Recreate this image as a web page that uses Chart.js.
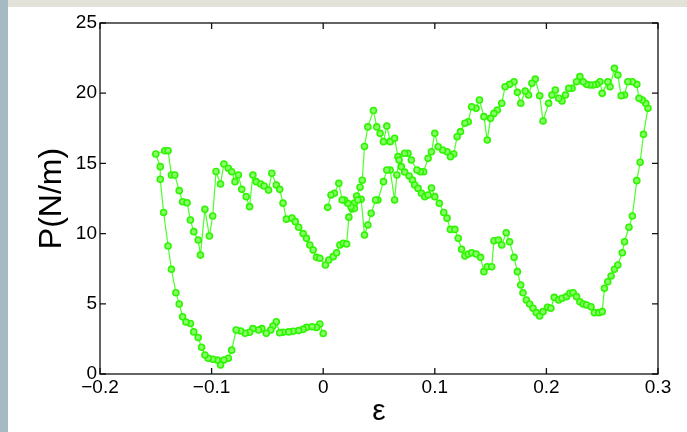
<!DOCTYPE html>
<html>
<head>
<meta charset="utf-8">
<script src="https://cdn.jsdelivr.net/npm/chart.js@4"></script>
<style>
html, body { margin: 0; padding: 0; background: #fff; }
#wrap { position: relative; width: 687px; height: 432px; overflow: hidden; background: #fff; }
#topStrip { position: absolute; left: 0; top: 0; width: 687px; height: 7px; background: #e2e2d8; }
#leftStrip { position: absolute; left: 0; top: 0; width: 8px; height: 432px; background: #a5bac2; }
#chart { position: absolute; left: 0; top: 0; }
</style>
</head>
<body>
<div id="wrap">
  <div id="topStrip"></div>
  <div id="leftStrip"></div>
  <canvas id="chart" width="687" height="432"></canvas>
</div>
<script>
// [strain, P] pairs, in the order the loop was recorded
const lowerLeft = [
    [0.000, 2.88], [-0.003, 3.56], [-0.006, 3.32], [-0.010, 3.37], [-0.015, 3.32], [-0.018, 3.18],
    [-0.022, 3.09], [-0.027, 3.05], [-0.031, 3.00], [-0.036, 2.97], [-0.039, 2.94], [-0.042, 3.72],
    [-0.045, 3.42], [-0.047, 3.13], [-0.051, 2.90], [-0.055, 3.23], [-0.058, 3.13], [-0.063, 3.23],
    [-0.066, 2.97], [-0.070, 2.90], [-0.074, 3.06], [-0.078, 3.13], [-0.082, 1.70], [-0.085, 1.12],
    [-0.089, 1.00], [-0.092, 0.64], [-0.095, 1.00], [-0.099, 1.05], [-0.103, 1.12], [-0.106, 1.35],
    [-0.109, 1.90], [-0.112, 2.60], [-0.116, 3.00], [-0.119, 3.60], [-0.123, 3.70], [-0.126, 4.08],
    [-0.129, 4.99], [-0.132, 5.79], [-0.136, 7.46], [-0.139, 9.12], [-0.143, 11.50], [-0.146, 13.87],
    [-0.146, 14.77], [-0.150, 15.67], [-0.142, 15.90], [-0.139, 15.90]
]
const upperLeft = [
    [-0.136, 14.17], [-0.133, 14.17], [-0.129, 13.06], [-0.126, 12.27], [-0.122, 12.20], [-0.119, 10.97],
    [-0.116, 10.14], [-0.112, 9.54], [-0.110, 8.47], [-0.106, 11.73], [-0.102, 9.83], [-0.099, 11.25],
    [-0.096, 14.42], [-0.092, 13.53], [-0.089, 14.96], [-0.085, 14.65], [-0.082, 14.41], [-0.079, 13.70],
    [-0.076, 14.17], [-0.073, 13.15], [-0.069, 12.63], [-0.066, 11.92], [-0.063, 14.17], [-0.060, 13.70],
    [-0.056, 13.53], [-0.053, 13.39], [-0.049, 13.10], [-0.046, 14.30], [-0.042, 13.46], [-0.039, 13.15],
    [-0.036, 12.17], [-0.033, 11.03], [-0.028, 11.10], [-0.025, 10.85], [-0.022, 10.45], [-0.018, 10.00],
    [-0.015, 9.66], [-0.012, 9.19], [-0.009, 8.83], [-0.006, 8.31], [-0.003, 8.24]
]
const middleDown = [
    [0.002, 7.76], [0.005, 8.12], [0.009, 8.36], [0.012, 8.64], [0.015, 9.19], [0.018, 9.31],
    [0.021, 9.26], [0.023, 11.17], [0.026, 11.75], [0.028, 12.18], [0.030, 12.68], [0.033, 13.30],
    [0.035, 13.80], [0.037, 16.20], [0.040, 17.60], [0.045, 18.77], [0.048, 17.60], [0.051, 17.14],
    [0.054, 16.55], [0.057, 17.66], [0.060, 16.55], [0.064, 16.79], [0.067, 15.48], [0.070, 14.77],
    [0.073, 14.39], [0.077, 14.10], [0.080, 13.82], [0.082, 13.46], [0.085, 13.22], [0.088, 12.87],
    [0.091, 12.63], [0.094, 12.75], [0.097, 13.25], [0.100, 12.63], [0.104, 12.16], [0.108, 11.50],
    [0.111, 11.10], [0.114, 10.30], [0.118, 10.30], [0.121, 9.67], [0.124, 8.88], [0.127, 8.40],
    [0.130, 8.55], [0.133, 8.64], [0.137, 8.55], [0.141, 8.31], [0.144, 7.29], [0.147, 7.64],
    [0.151, 7.64], [0.153, 9.49], [0.157, 9.54], [0.160, 9.19], [0.164, 10.06], [0.167, 9.42],
    [0.171, 8.31], [0.174, 7.29], [0.177, 6.34], [0.179, 5.79], [0.182, 5.27], [0.185, 4.99],
    [0.188, 4.68], [0.191, 4.37], [0.194, 4.13], [0.197, 4.44], [0.201, 4.75], [0.204, 4.68],
    [0.207, 5.46], [0.211, 5.27], [0.214, 5.39], [0.218, 5.51], [0.221, 5.75], [0.224, 5.79],
    [0.227, 5.51], [0.230, 5.15], [0.233, 4.99], [0.236, 4.91], [0.240, 4.79], [0.243, 4.37],
    [0.247, 4.37], [0.250, 4.44]
]
const rightUp = [
    [0.252, 6.10], [0.255, 6.57], [0.258, 6.98], [0.261, 7.46], [0.264, 7.76], [0.268, 8.64],
    [0.270, 9.42], [0.274, 10.45], [0.277, 11.25], [0.281, 13.77], [0.284, 15.08], [0.287, 17.07],
    [0.291, 18.92]
]
const upperBack = [
    [0.289, 19.28], [0.286, 19.52], [0.283, 19.64], [0.281, 20.63], [0.277, 20.82], [0.273, 20.82],
    [0.270, 19.87], [0.267, 19.82], [0.264, 21.30], [0.261, 21.77], [0.257, 20.46], [0.255, 20.82],
    [0.250, 19.99], [0.248, 20.82], [0.245, 20.63], [0.242, 20.58], [0.239, 20.58], [0.236, 20.63],
    [0.233, 20.82], [0.230, 21.18], [0.227, 20.82], [0.223, 20.35], [0.220, 20.35], [0.217, 19.87],
    [0.214, 19.44], [0.211, 19.64], [0.208, 20.23], [0.205, 19.87], [0.202, 19.28], [0.197, 18.02],
    [0.194, 19.82], [0.190, 21.01], [0.187, 20.70], [0.184, 19.87], [0.181, 20.16], [0.177, 19.28],
    [0.174, 20.06], [0.171, 20.82], [0.167, 20.63], [0.163, 20.46], [0.160, 19.28], [0.156, 18.80],
    [0.153, 18.56], [0.150, 18.21], [0.147, 16.67], [0.144, 18.33], [0.140, 19.52], [0.137, 18.92],
    [0.133, 19.04], [0.130, 17.97], [0.127, 17.86], [0.123, 17.26], [0.120, 16.90], [0.117, 15.67],
    [0.114, 15.48], [0.111, 15.83], [0.107, 15.95], [0.103, 16.19], [0.100, 17.14], [0.097, 15.83],
    [0.094, 15.36], [0.090, 14.41], [0.087, 14.41], [0.084, 14.53], [0.079, 15.24], [0.076, 15.72],
    [0.073, 15.72], [0.068, 15.24], [0.066, 14.17], [0.064, 12.39], [0.060, 14.53], [0.057, 14.53],
    [0.054, 13.70], [0.049, 12.39], [0.047, 12.39], [0.043, 11.45], [0.040, 10.61], [0.037, 9.90],
    [0.034, 12.45], [0.031, 12.39], [0.028, 11.80], [0.025, 11.92], [0.022, 12.16], [0.019, 12.39],
    [0.017, 12.39], [0.014, 13.58], [0.010, 12.87], [0.007, 12.75], [0.004, 11.87]
]

const xTickValues = [-0.2, -0.1, 0, 0.1, 0.2, 0.3]
const xTickLabels = ['\u22120.2', '\u22120.1', '0', '0.1', '0.2', '0.3']
const yTickValues = [0, 5, 10, 15, 20, 25]
const yTickLabels = ['0', '5', '10', '15', '20', '25']

const font = "'Liberation Sans', Arial, Helvetica, sans-serif"

let points = []
;[lowerLeft, upperLeft, middleDown, rightUp, upperBack].forEach(seg => {
    seg.forEach(p => points.push({x: p[0], y: p[1]}))
})

// matlab style box with inward ticks on all four sides
const boxTicks = {
    id: 'boxTicks',
    afterDraw(chart) {
        const {ctx, chartArea: a} = chart
        const xs = chart.scales.x, ys = chart.scales.y
        ctx.save()
        ctx.strokeStyle = '#111'
        ctx.lineWidth = 1.3
        ctx.strokeRect(a.left, a.top, a.right - a.left, a.bottom - a.top)
        ctx.beginPath()
        xs.ticks.forEach(t => {
            let px = xs.getPixelForValue(t.value)
            ctx.moveTo(px, a.bottom); ctx.lineTo(px, a.bottom - 6)
            ctx.moveTo(px, a.top); ctx.lineTo(px, a.top + 6)
        })
        ys.ticks.forEach(t => {
            let py = ys.getPixelForValue(t.value)
            ctx.moveTo(a.left, py); ctx.lineTo(a.left + 6, py)
            ctx.moveTo(a.right, py); ctx.lineTo(a.right - 6, py)
        })
        ctx.stroke()
        ctx.restore()
    }
}

new Chart(document.getElementById('chart'), {
    type: 'scatter',
    data: {
        datasets: [{
            data: points,
            showLine: true,
            borderColor: '#4cff2a',
            borderWidth: 1.2,
            pointRadius: 3,
            pointBorderWidth: 1.6,
            pointBorderColor: '#2ef500',
            pointBackgroundColor: '#86ff66'
        }]
    },
    options: {
        responsive: false,
        animation: false,
        layout: {
            padding: {left: 0, top: 23, right: 29, bottom: 0}
        },
        plugins: {
            legend: {display: false},
            tooltip: {enabled: false}
        },
        scales: {
            x: {
                type: 'linear',
                min: -0.2,
                max: 0.3,
                afterBuildTicks: s => { s.ticks = xTickValues.map(v => ({value: v})) },
                afterFit: s => { s.height = 58 },
                ticks: {
                    callback: (v, i) => xTickLabels[i],
                    color: '#000',
                    padding: 2,
                    maxRotation: 0,
                    font: {family: font, size: 19}
                },
                grid: {display: false, drawTicks: false},
                border: {display: false},
                title: {
                    display: true,
                    text: '\u03b5',
                    color: '#000',
                    font: {family: font, size: 30},
                    padding: {top: 0, bottom: 2}
                }
            },
            y: {
                type: 'linear',
                min: 0,
                max: 25,
                afterBuildTicks: s => { s.ticks = yTickValues.map(v => ({value: v})) },
                afterFit: s => { s.width = 100 },
                ticks: {
                    callback: (v, i) => yTickLabels[i],
                    color: '#000',
                    padding: 3,
                    font: {family: font, size: 19}
                },
                grid: {display: false, drawTicks: false},
                border: {display: false},
                title: {
                    display: true,
                    text: 'P(N/m)',
                    color: '#000',
                    font: {family: font, size: 32},
                    padding: {top: 33, bottom: 0}
                }
            }
        }
    },
    plugins: [boxTicks]
})
</script>
</body>
</html>
